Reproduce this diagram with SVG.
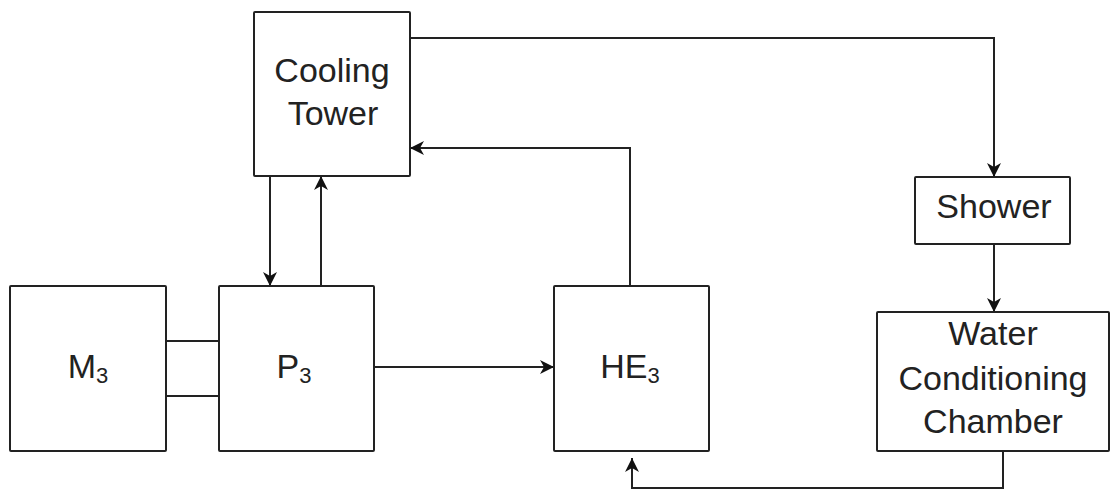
<svg xmlns="http://www.w3.org/2000/svg" width="1111" height="490" viewBox="0 0 1111 490">
<style>
.box{fill:#fff;stroke:#222;stroke-width:2}
.lbl{font-family:"Liberation Sans",Arial,sans-serif;font-size:34px;fill:#222;text-anchor:middle}
.sub{font-size:22px}
.conn{fill:none;stroke:#222;stroke-width:2}
</style>
<defs>
<marker id="arr" markerUnits="userSpaceOnUse" markerWidth="16" markerHeight="16" viewBox="-1 -8 16 16" refX="14" refY="0" orient="auto">
<path d="M0,-7 L14,0 L0,7 L4,0 z" fill="#111"/>
</marker>
</defs>
<rect width="1111" height="490" fill="#fff"/>
<g id="connectors">
<line class="conn" x1="270" y1="176" x2="270" y2="286" marker-end="url(#arr)"/>
<line class="conn" x1="321" y1="286" x2="321" y2="176" marker-end="url(#arr)"/>
<line class="conn" x1="166" y1="341" x2="219" y2="341"/>
<line class="conn" x1="166" y1="396" x2="219" y2="396"/>
<line class="conn" x1="374" y1="367" x2="554" y2="367" marker-end="url(#arr)"/>
<path class="conn" d="M630,286 V148 H410" marker-end="url(#arr)"/>
<path class="conn" d="M410,38 H994 V177" marker-end="url(#arr)"/>
<path class="conn" d="M994,244 V312" marker-end="url(#arr)"/>
<path class="conn" d="M1003,451 V488 H632 V458" marker-end="url(#arr)"/>
</g>
<g id="cooling-tower">
<rect class="box" x="254" y="12" width="156" height="164" rx="1"/>
<text class="lbl" x="332" y="82">Cooling</text>
<text class="lbl" x="333" y="125">Tower</text>
</g>
<g id="m3">
<rect class="box" x="10" y="286" width="156" height="165" rx="1"/>
<text class="lbl" x="88" y="378">M<tspan class="sub" dy="5">3</tspan></text>
</g>
<g id="p3">
<rect class="box" x="219" y="286" width="155" height="165" rx="1"/>
<text class="lbl" x="294" y="378">P<tspan class="sub" dy="5">3</tspan></text>
</g>
<g id="he3">
<rect class="box" x="554" y="286" width="155" height="165" rx="1"/>
<text class="lbl" x="630" y="378">HE<tspan class="sub" dy="5">3</tspan></text>
</g>
<g id="shower">
<rect class="box" x="915" y="177" width="155" height="67" rx="1"/>
<text class="lbl" x="994" y="218">Shower</text>
</g>
<g id="water-conditioning-chamber">
<rect class="box" x="877" y="312" width="232" height="139" rx="1"/>
<text class="lbl" x="993" y="345">Water</text>
<text class="lbl" x="993" y="390">Conditioning</text>
<text class="lbl" x="993" y="433">Chamber</text>
</g>
</svg>
